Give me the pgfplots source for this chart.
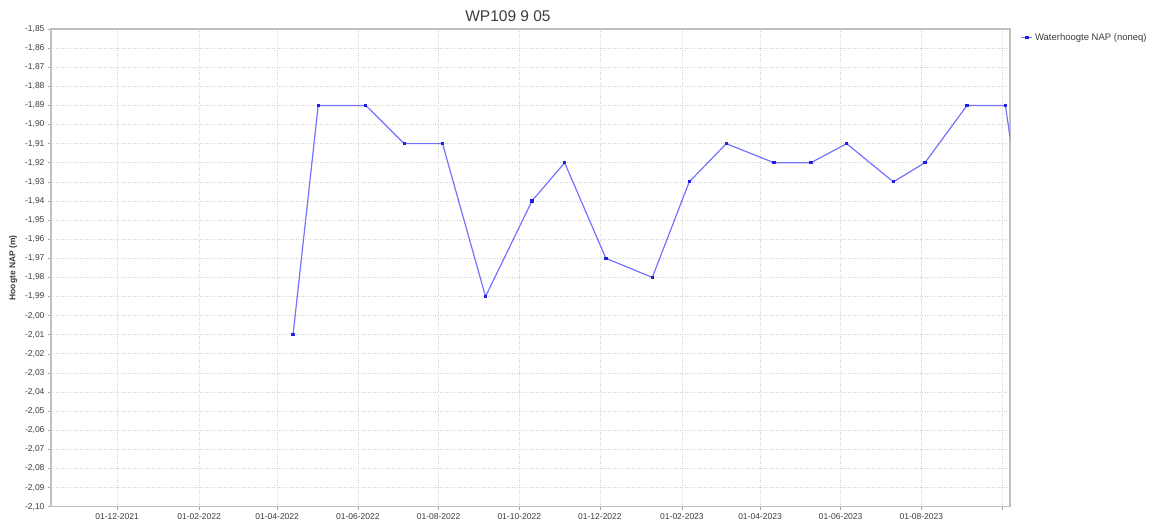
\documentclass[border=0pt]{standalone}
\usepackage{fontspec}
\setmainfont{Liberation Sans}
\usepackage{pgfplots}
\pgfplotsset{compat=1.18}
\definecolor{serblue}{RGB}{115,115,255}
\definecolor{mkblue}{RGB}{30,30,230}
\definecolor{txtgray}{RGB}{60,60,60}
\begin{document}
\begin{tikzpicture}[x=1pt,y=1pt]
\path[use as bounding box] (0,0) rectangle (1163,523);
\begin{axis}[
  at={(51pt,16.3pt)}, anchor=south west,
  scale only axis, width=959pt, height=477.7pt,
  xmin=-50, xmax=675, ymin=-2.10, ymax=-1.85,
  ytick={-2.10,-2.09,-2.08,-2.07,-2.06,-2.05,-2.04,-2.03,-2.02,-2.01,-2.00,-1.99,-1.98,-1.97,-1.96,-1.95,-1.94,-1.93,-1.92,-1.91,-1.90,-1.89,-1.88,-1.87,-1.86,-1.85},
  xtick={0,62,121,182,243,304,365,427,486,547,608,669},
  xticklabels={01-12-2021,01-02-2022,01-04-2022,01-06-2022,01-08-2022,01-10-2022,01-12-2022,01-02-2023,01-04-2023,01-06-2023,01-08-2023,{}},
  yticklabel style={/pgf/number format/.cd, fixed, fixed zerofill, precision=2, use comma, assume math mode=true},
  ticklabel style={font=\fontsize{8.5}{9}\selectfont, text=txtgray},
  xtick pos=bottom, ytick pos=left,
  tick align=outside, major tick length=3pt,
  tick style={gray!70, line width=0.6pt},
  grid=major, grid style={dotted, gray!35, line width=0.7pt},
  axis line style={gray!50, line width=1.2pt},
  title={WP109 9 05},
  title style={font=\fontsize{15.5}{17}\selectfont, text=txtgray, at={(0.4765,1)}, anchor=center, yshift=7pt},
  ylabel={Hoogte NAP (m)},
  ylabel style={font=\bfseries\fontsize{8.5}{10}\selectfont, text=txtgray, at={(axis description cs:-0.0393,0.5)}, anchor=center},
  legend style={at={(1.008,1)}, anchor=north west, draw=none, fill=none, font=\fontsize{9.5}{11}\selectfont, text=txtgray},
  legend cell align=left,
  legend image code/.code={\draw[mark repeat=2,mark phase=2,#1] plot coordinates {(0pt,0pt)(5.5pt,0pt)(11pt,0pt)};},
  clip marker paths=true,
]
\addplot[color=serblue, line width=1.2pt, mark=square*, mark size=1pt, mark options={fill=mkblue, draw=mkblue}] coordinates {
(133,-2.01)
(152,-1.89)
(188,-1.89)
(217,-1.91)
(246,-1.91)
(278.5,-1.99)
(313.6,-1.94)
(338.3,-1.92)
(369.5,-1.97)
(404.6,-1.98)
(432.5,-1.93)
(460.5,-1.91)
(496.6,-1.92)
(524.5,-1.92)
(551.5,-1.91)
(586.8,-1.93)
(610.7,-1.92)
(642.5,-1.89)
(671.5,-1.89)
(680,-1.93)
};
\addlegendentry{Waterhoogte NAP (noneq)}
\end{axis}
\end{tikzpicture}
\end{document}
